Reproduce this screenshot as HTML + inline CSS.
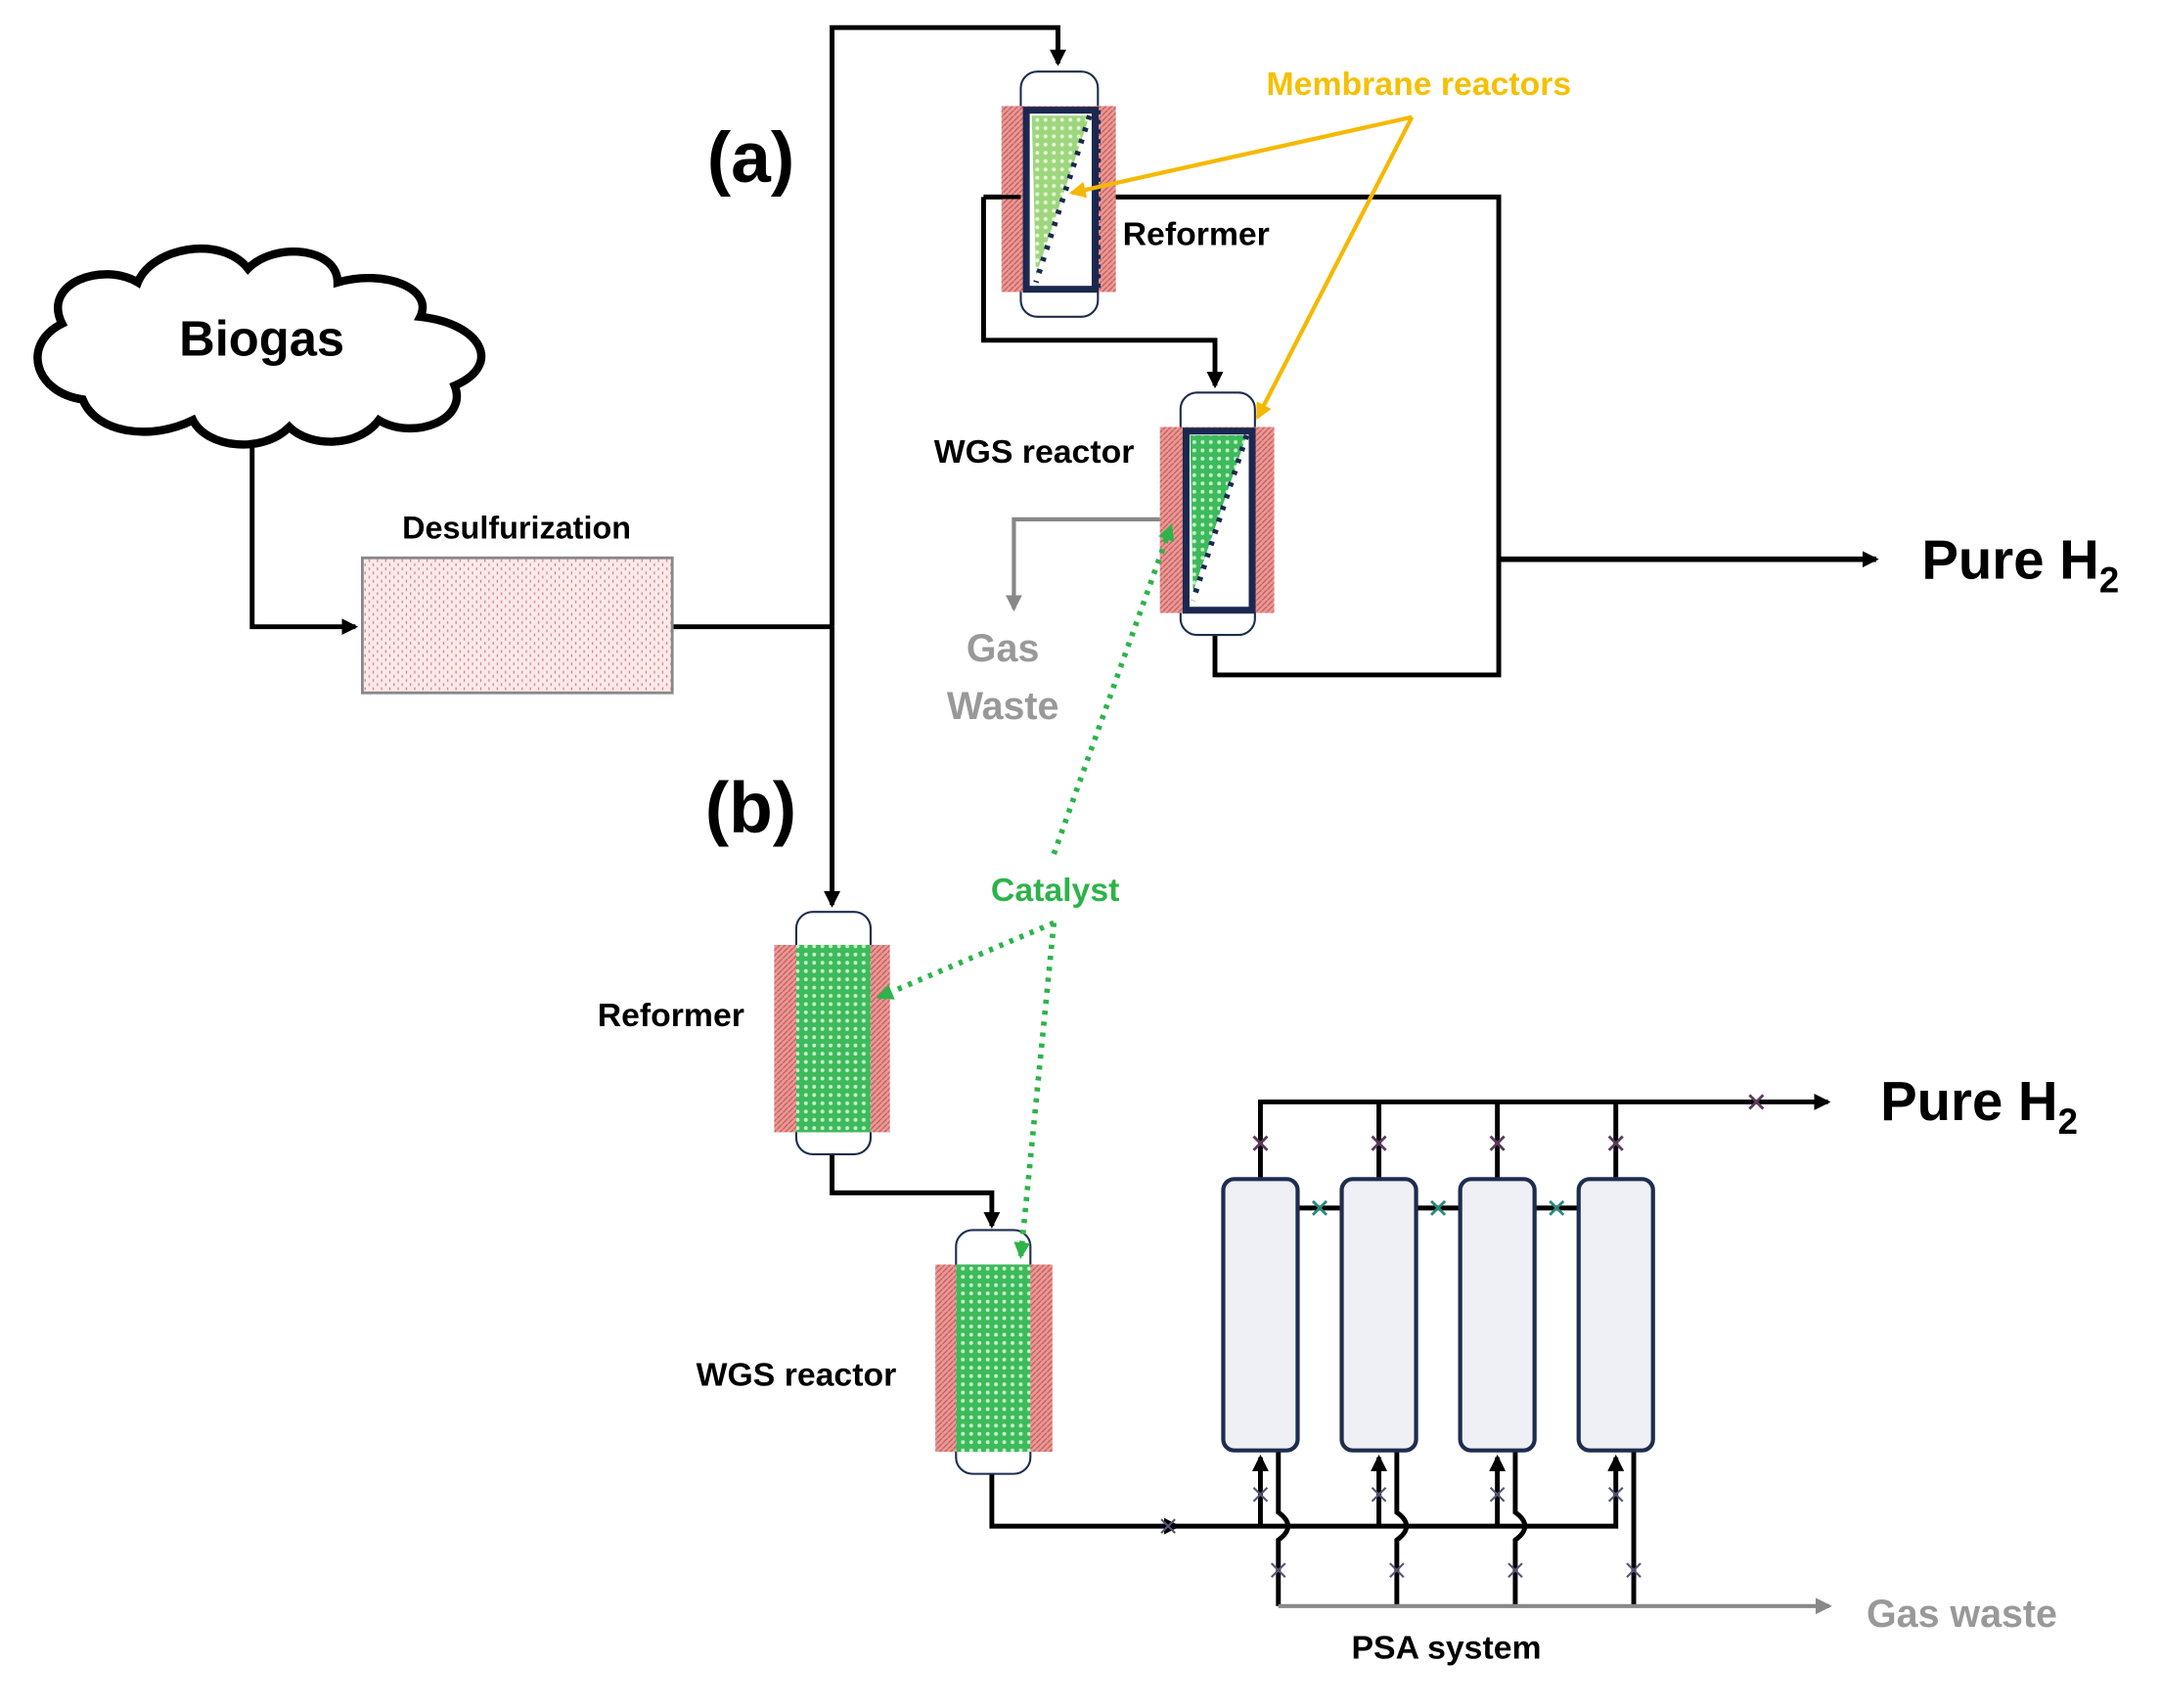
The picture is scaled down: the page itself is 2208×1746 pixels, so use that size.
<!DOCTYPE html>
<html><head><meta charset="utf-8"><style>
html,body{margin:0;padding:0;background:#fff}
svg{display:block}
text{font-family:"Liberation Sans",sans-serif;font-weight:bold}
</style></head><body>
<svg width="2208" height="1746" viewBox="0 0 1568 1240" xmlns="http://www.w3.org/2000/svg">
<defs>
<pattern id="pink" width="4" height="4" patternUnits="userSpaceOnUse"><rect width="4" height="4" fill="#e89a96"/><path d="M0 4L4 0" stroke="#c85c5c" stroke-width="1"/></pattern>
<pattern id="green" width="6" height="6" patternUnits="userSpaceOnUse"><rect width="6" height="6" fill="#3cba5c"/><circle cx="3" cy="3" r="1.4" fill="#c8f0c8"/></pattern>
<pattern id="lgreen" width="6" height="6" patternUnits="userSpaceOnUse"><rect width="6" height="6" fill="#9ed67e"/><circle cx="3" cy="3" r="1.4" fill="#e8f8d8"/></pattern>
<pattern id="desulf" width="6" height="6" patternUnits="userSpaceOnUse"><rect width="6" height="6" fill="#fbeaea"/><path d="M1 1v2M4 4v2" stroke="#e07070" stroke-width="0.8"/></pattern>
<marker id="ar" markerWidth="12" markerHeight="12" refX="10" refY="6" orient="auto" markerUnits="userSpaceOnUse"><path d="M0 0L12 6L0 12z" fill="#000"/></marker>
<marker id="arg" markerWidth="12" markerHeight="12" refX="10" refY="6" orient="auto" markerUnits="userSpaceOnUse"><path d="M0 0L12 6L0 12z" fill="#888"/></marker>
<marker id="ary" markerWidth="12" markerHeight="12" refX="10" refY="6" orient="auto" markerUnits="userSpaceOnUse"><path d="M0 0L12 6L0 12z" fill="#f5b800"/></marker>
<marker id="argr" markerWidth="12" markerHeight="12" refX="10" refY="6" orient="auto" markerUnits="userSpaceOnUse"><path d="M0 0L12 6L0 12z" fill="#2db34a"/></marker>
</defs>

<!-- cloud -->
<path d="M60 290 C25 285 15 250 45 235 C30 205 75 190 100 205 C110 180 160 170 180 195 C200 175 245 180 245 205 C280 195 315 210 305 230 C350 235 365 265 330 280 C340 305 300 320 275 305 C260 325 225 325 210 310 C190 330 150 325 140 305 C110 320 70 315 60 290 Z" fill="#fff" stroke="#000" stroke-width="6"/>
<text x="190" y="258" font-size="36" text-anchor="middle">Biogas</text>

<g fill="none" stroke="#000" stroke-width="3.5">
<path d="M183 325V455H258" marker-end="url(#ar)"/>
<path d="M488 455H604"/>
<path d="M604 455V20H768V46" marker-end="url(#ar)"/>
<path d="M604 455V657" marker-end="url(#ar)"/>
<path d="M714 143H1088V490H882V460"/>
<path d="M714 143V247H882V280" marker-end="url(#ar)"/>
<path d="M1088 406H1362" stroke-width="4" marker-end="url(#ar)"/>
<path d="M604 838V866H720V890" marker-end="url(#ar)"/>
<path d="M720 1070V1108H855" marker-end="url(#ar)"/>
</g>

<rect x="263" y="405" width="225" height="98" fill="url(#desulf)" stroke="#888" stroke-width="2"/>
<text x="375" y="391" font-size="23" text-anchor="middle">Desulfurization</text>

<text x="545" y="132" font-size="52" text-anchor="middle">(a)</text>
<text x="545" y="604" font-size="52" text-anchor="middle">(b)</text>

<!-- membrane reformer -->
<rect x="741" y="52" width="56" height="178" rx="12" fill="#fff" stroke="#1e2d4f" stroke-width="1.5"/>
<rect x="727" y="77" width="83" height="135" fill="url(#pink)"/>
<rect x="745" y="80" width="50" height="130" fill="#fff" stroke="#1a2850" stroke-width="5"/>
<path d="M749 84H791L752 200Z" fill="url(#lgreen)"/>
<path d="M791 84L752 205" stroke="#1a2850" stroke-width="4" stroke-dasharray="3 6"/>
<path d="M797 80V210" stroke="#1a2850" stroke-width="4" stroke-dasharray="3 4"/>
<path d="M714 143H741" stroke="#000" stroke-width="3"/>
<text x="815" y="178" font-size="24">Reformer</text>

<!-- membrane WGS -->
<rect x="857" y="285" width="54" height="176" rx="12" fill="#fff" stroke="#1e2d4f" stroke-width="1.5"/>
<rect x="842" y="310" width="83" height="135" fill="url(#pink)"/>
<rect x="861" y="313" width="48" height="130" fill="#fff" stroke="#1a2850" stroke-width="5"/>
<path d="M864 316H905L866 430Z" fill="url(#green)"/>
<path d="M905 316L866 436" stroke="#1a2850" stroke-width="4" stroke-dasharray="3 6"/>
<text x="678" y="336" font-size="24">WGS reactor</text>

<path d="M842 377H736V442" fill="none" stroke="#888" stroke-width="3" marker-end="url(#arg)"/>
<text x="728" y="480" font-size="28" fill="#999" text-anchor="middle">Gas</text>
<text x="728" y="522" font-size="28" fill="#999" text-anchor="middle">Waste</text>

<text x="1030" y="69" font-size="24" fill="#f5c000" text-anchor="middle">Membrane reactors</text>
<path d="M1025 85L778 140" stroke="#f5b800" stroke-width="3" marker-end="url(#ary)"/>
<path d="M1025 85L913 303" stroke="#f5b800" stroke-width="3" marker-end="url(#ary)"/>

<!-- reformer b -->
<rect x="578" y="662" width="54" height="176" rx="12" fill="#fff" stroke="#1e2d4f" stroke-width="1.5"/>
<rect x="562" y="686" width="84" height="136" fill="url(#pink)"/>
<rect x="578" y="686" width="54" height="136" fill="url(#green)"/>
<text x="487" y="745" font-size="24" text-anchor="middle">Reformer</text>

<!-- WGS b -->
<rect x="694" y="893" width="54" height="177" rx="12" fill="#fff" stroke="#1e2d4f" stroke-width="1.5"/>
<rect x="679" y="918" width="85" height="136" fill="url(#pink)"/>
<rect x="694" y="918" width="54" height="136" fill="url(#green)"/>
<text x="578" y="1006" font-size="24" text-anchor="middle">WGS reactor</text>

<text x="766" y="654" font-size="24" fill="#2db34a" text-anchor="middle">Catalyst</text>
<g stroke="#2db34a" stroke-width="4" stroke-dasharray="3 5" fill="none">
<path d="M765 620L850 382" marker-end="url(#argr)"/>
<path d="M765 670L638 724" marker-end="url(#argr)"/>
<path d="M765 670L741 912" marker-end="url(#argr)"/>
</g>

<!-- PSA -->
<g fill="none" stroke="#000" stroke-width="3.5">
<path d="M915 856V800H1327" marker-end="url(#ar)"/>
<path d="M1001 856V800M1087 856V800M1173 856V800"/>
<path d="M942 877H974M1028 877H1060M1114 877H1146"/>
<path d="M855 1108H1173V1058" marker-end="url(#ar)"/>
<path d="M915 1108V1058" marker-end="url(#ar)"/>
<path d="M1001 1108V1058" marker-end="url(#ar)"/>
<path d="M1087 1108V1058" marker-end="url(#ar)"/>
<path d="M928 1053V1098Q942 1108 928 1118V1166M1014 1053V1098Q1028 1108 1014 1118V1166M1100 1053V1098Q1114 1108 1100 1118V1166M1186 1053V1166"/>
</g>
<path d="M928 1166H1328" stroke="#888" stroke-width="3" fill="none" marker-end="url(#arg)"/>
<g fill="#eef0f5" stroke="#1e2d4f" stroke-width="3">
<rect x="888" y="856" width="54" height="197" rx="8"/>
<rect x="974" y="856" width="54" height="197" rx="8"/>
<rect x="1060" y="856" width="54" height="197" rx="8"/>
<rect x="1146" y="856" width="54" height="197" rx="8"/>
</g>
<g stroke="#5a3a5a" stroke-width="2">
<path d="M910 825l10 10M920 825l-10 10M996 825l10 10M1006 825l-10 10M1082 825l10 10M1092 825l-10 10M1168 825l10 10M1178 825l-10 10M1270 795l10 10M1280 795l-10 10"/>
</g>
<g stroke="#2a8a7a" stroke-width="2">
<path d="M953 872l10 10M963 872l-10 10M1039 872l10 10M1049 872l-10 10M1125 872l10 10M1135 872l-10 10"/>
</g>
<g stroke="#557" stroke-width="1.5">
<path d="M910 1080l10 10M920 1080l-10 10M996 1080l10 10M1006 1080l-10 10M1082 1080l10 10M1092 1080l-10 10M1168 1080l10 10M1178 1080l-10 10"/>
<path d="M923 1135l10 10M933 1135l-10 10M1009 1135l10 10M1019 1135l-10 10M1095 1135l10 10M1105 1135l-10 10M1181 1135l10 10M1191 1135l-10 10"/>
<path d="M843 1103l10 10M853 1103l-10 10"/>
</g>

<text x="1395" y="420" font-size="40">Pure  H<tspan font-size="26" dy="10">2</tspan></text>
<text x="1365" y="813" font-size="40">Pure H<tspan font-size="26" dy="10">2</tspan></text>
<text x="1355" y="1181" font-size="28" fill="#999">Gas waste</text>
<text x="1050" y="1204" font-size="24" text-anchor="middle">PSA system</text>
</svg>
</body></html>
